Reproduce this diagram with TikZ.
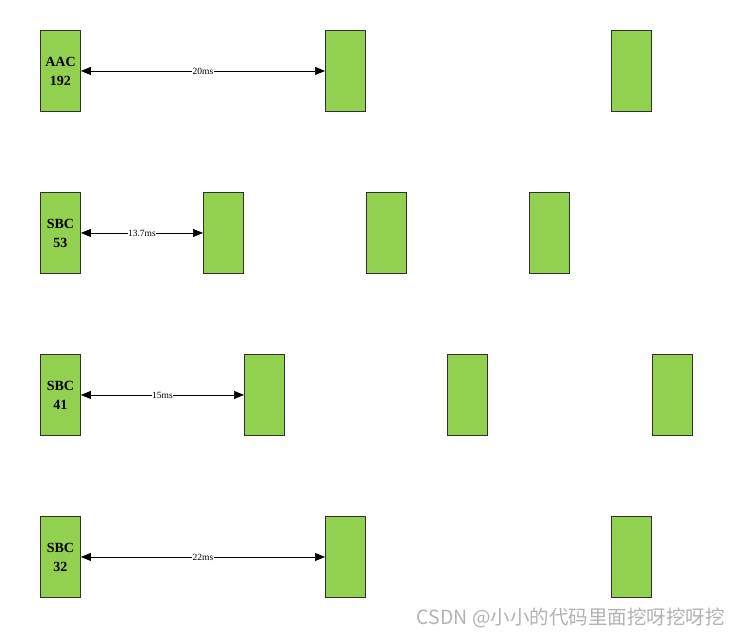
\documentclass[tikz,border=0pt]{standalone}
\usepackage{fontspec}
\setmainfont{Liberation Serif}
\newfontfamily\cjkfont{Noto Sans CJK SC}
\usetikzlibrary{arrows.meta}
\definecolor{boxgreen}{HTML}{92D050}
\definecolor{boxline}{HTML}{303030}
\tikzset{
  blk/.style={draw=boxline, line width=0.9pt, fill=boxgreen, minimum width=40pt, minimum height=81pt, inner sep=0pt, anchor=north west,
    font=\fontsize{14}{19}\selectfont\bfseries, align=center},
  gap/.style={{Triangle[length=10pt,width=8pt]}-{Triangle[length=10pt,width=8pt]}, line width=0.7pt},
  lbl/.style={fill=white, inner sep=0.5pt, font=\fontsize{9.5}{10}\selectfont}
}
\begin{document}
\begin{tikzpicture}[x=1pt,y=-1pt]
\useasboundingbox (0,0) rectangle (739,638);
% row 1
\node[blk] (a1) at (40,30) {AAC\\192};
\node[blk] (a2) at (325,30) {};
\node[blk] (a3) at (611,30) {};
\draw[gap] (a1.east) -- node[lbl] {20ms} (a2.west);
% row 2
\node[blk] (b1) at (40,192) {SBC\\53};
\node[blk] (b2) at (203,192) {};
\node[blk] (b3) at (366,192) {};
\node[blk] (b4) at (529,192) {};
\draw[gap] (b1.east) -- node[lbl] {13.7ms} (b2.west);
% row 3
\node[blk] (c1) at (40,354) {SBC\\41};
\node[blk] (c2) at (244,354) {};
\node[blk] (c3) at (447,354) {};
\node[blk] (c4) at (652,354) {};
\draw[gap] (c1.east) -- node[lbl] {15ms} (c2.west);
% row 4
\node[blk] (d1) at (40,516) {SBC\\32};
\node[blk] (d2) at (325,516) {};
\node[blk] (d3) at (611,516) {};
\draw[gap] (d1.east) -- node[lbl] {22ms} (d2.west);
% watermark
\node[anchor=east, text=gray!60, font=\fontsize{19.5}{21}\selectfont\cjkfont, inner sep=0pt] (wm) at (725,618) {CSDN @小小的代码里面挖呀挖呀挖};
\end{tikzpicture}
\end{document}
